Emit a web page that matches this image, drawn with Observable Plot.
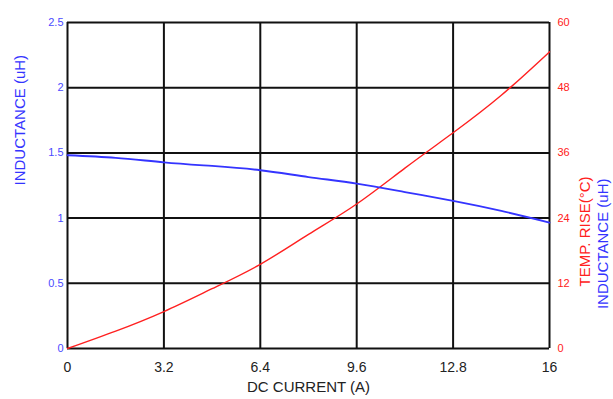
<!DOCTYPE html>
<html><head><meta charset="utf-8">
<script src="https://cdn.jsdelivr.net/npm/d3@7"></script>
<script src="https://cdn.jsdelivr.net/npm/@observablehq/plot@0.6"></script>
<style>body{margin:0;background:#fff}</style>
</head><body><div id="chart"></div>
<script>
const current = [0, 1.6, 3.2, 4.8, 6.4, 8, 9.6, 11.2, 12.8, 14.4, 16];
const inductance = [1.482, 1.462, 1.428, 1.40, 1.367, 1.315, 1.265, 1.20, 1.132, 1.055, 0.966];
const tempRise = [0, 3.2, 6.8, 11.0, 15.5, 21.0, 26.6, 33.2, 39.7, 46.6, 54.6];
const xTicks = [0, 3.2, 6.4, 9.6, 12.8, 16];
const leftTicks = [0, 0.5, 1, 1.5, 2, 2.5];
const rightTicks = [0, 12, 24, 36, 48, 60];
const xLabel = "DC CURRENT (A)";
const leftLabel = "INDUCTANCE (uH)";
const rightLabel1 = "TEMP. RISE(°C)";
const rightLabel2 = "INDUCTANCE (uH)";

const BLUE = "#3434ff", RED = "#ff2020", BLUE_T = "#4a4aff";
const ratio = rightTicks[rightTicks.length - 1] / leftTicks[leftTicks.length - 1];
const indData = current.map((c, i) => ({c, v: inductance[i]}));
const tmpData = current.map((c, i) => ({c, v: tempRise[i] / ratio}));

const chart = Plot.plot({
  width: 613, height: 399,
  marginLeft: 67, marginRight: 64, marginTop: 22, marginBottom: 51,
  style: {fontFamily: "'Liberation Sans', Arial, sans-serif", background: "#fff"},
  x: {domain: [0, 16]},
  y: {domain: [0, 2.5]},
  marks: [
    Plot.ruleX(xTicks, {stroke: "#111", strokeWidth: 2}),
    Plot.ruleY(leftTicks, {stroke: "#111", strokeWidth: 2}),
    Plot.line(tmpData, {x: "c", y: "v", stroke: RED, strokeWidth: 1.4, curve: "natural"}),
    Plot.line(indData, {x: "c", y: "v", stroke: BLUE, strokeWidth: 1.8, curve: "natural"}),
    Plot.axisX({ticks: xTicks, tickSize: 0, tickPadding: 14, fontSize: 14, color: "#222", label: null, tickFormat: d => String(d)}),
    Plot.axisY({anchor: "left", ticks: leftTicks, tickSize: 0, tickPadding: 4, fontSize: 11, color: BLUE_T, label: null, tickFormat: d => String(d)}),
    Plot.axisY({anchor: "right", ticks: rightTicks.map(t => t / ratio), tickSize: 0, tickPadding: 8, fontSize: 11, color: RED, label: null, tickFormat: d => String(Math.round(d * ratio))}),
    Plot.text([xLabel], {text: d => d, frameAnchor: "bottom", dy: 43, fontSize: 15, fill: "#222", letterSpacing: -0.8}),
    Plot.text([leftLabel], {text: d => d, frameAnchor: "left", rotate: -90, dx: -47, fontSize: 15, fill: BLUE, letterSpacing: -0.3}),
    Plot.text([rightLabel1], {text: d => d, frameAnchor: "right", rotate: -90, dx: 36, dy: -9, fontSize: 15, fill: RED, letterSpacing: -0.5}),
    Plot.text([rightLabel2], {text: d => d, frameAnchor: "right", rotate: -90, dx: 54, dy: -7, fontSize: 15, fill: BLUE, letterSpacing: -0.3})
  ]
});
document.getElementById("chart").appendChild(chart);
</script>
</body></html>
